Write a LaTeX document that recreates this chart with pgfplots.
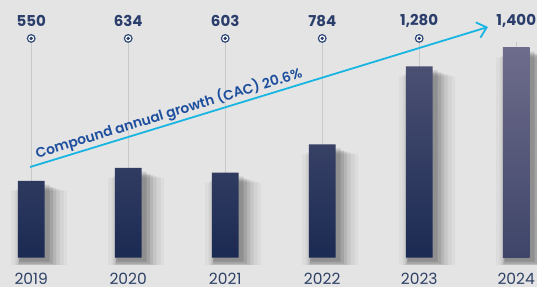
\documentclass[border=0pt]{standalone}
\usepackage{fontspec}
\setmainfont{Poppins}
\IfFontExistsTF{Poppins SemiBold}{\newfontfamily\semib{Poppins SemiBold}}{\newfontfamily\semib{Poppins}[UprightFont=*-Bold]}
\usepackage{pgfplots}
\usepackage{pgfplotstable}
\pgfplotsset{compat=1.18}
\usetikzlibrary{arrows.meta}
\definecolor{bg}{HTML}{E4E4E4}
\definecolor{bartop}{HTML}{4B5073}
\definecolor{barbot}{HTML}{1B2A52}
\definecolor{bartopL}{HTML}{6E6C8C}
\definecolor{barbotL}{HTML}{3E4568}
\definecolor{navy}{HTML}{2B3D6B}
\definecolor{yearc}{HTML}{2E4166}
\definecolor{ring}{HTML}{2E4A7A}
\definecolor{gridc}{HTML}{C9C9C9}
\definecolor{arrowc}{HTML}{18B5E3}
\definecolor{textc}{HTML}{1E4F9E}
\pgfplotstableread{
x v lab
0 550 550
1 634 634
2 603 603
3 784 784
4 1280 {1,280}
}\dataA
\pgfplotstableread{
x v lab
5 1400 {1,400}
}\dataB
\pgfplotstableread{
x v lab yr
0 550 550 2019
1 634 634 2020
2 603 603 2021
3 784 784 2022
4 1280 {1,280} 2023
5 1400 {1,400} 2024
}\dataAll
\begin{document}
\begin{tikzpicture}
\begin{axis}[
  scale only axis,
  width=537pt, height=257.5pt,
  xmin=-0.3216, xmax=5.2144, ymin=62, ymax=1704,
  axis line style={draw=none}, tick style={draw=none},
  ytick=\empty, xtick=\empty,
  clip=false,
]
% background
\fill[bg] ([yshift=-29.5pt]rel axis cs:0,0) rectangle (rel axis cs:1,1);
\coordinate (bl) at (rel axis cs:0,0);
\coordinate (tr) at (rel axis cs:1,1);
% vertical guide lines (behind bars)
\addplot[ycomb, draw=gridc, line width=1pt, mark=none] table[x=x, y expr=1459] {\dataA};
\addplot[ycomb, draw=gridc, line width=1pt, mark=none] table[x=x, y expr=1436] {\dataB};
% soft shadows
\begin{scope}
\clip (axis cs:-0.3216,20) rectangle (axis cs:5.2144,1704);
\addplot[ybar, bar width=56pt, bar shift=8pt, fill=black, draw=none, opacity=0.03, yshift=-10pt] table[x=x,y=v] {\dataAll};
\addplot[ybar, bar width=49pt, bar shift=8pt, fill=black, draw=none, opacity=0.04, yshift=-9pt] table[x=x,y=v] {\dataAll};
\addplot[ybar, bar width=43pt, bar shift=7pt, fill=black, draw=none, opacity=0.06, yshift=-8pt] table[x=x,y=v] {\dataAll};
\addplot[ybar, bar width=38pt, bar shift=6pt, fill=black, draw=none, opacity=0.08, yshift=-7pt] table[x=x,y=v] {\dataAll};
\addplot[ybar, bar width=34pt, bar shift=5pt, fill=black, draw=none, opacity=0.1, yshift=-6pt] table[x=x,y=v] {\dataAll};
\addplot[ybar, bar width=30pt, bar shift=3.5pt, fill=black, draw=none, opacity=0.12, yshift=-4pt] table[x=x,y=v] {\dataAll};
\end{scope}
% bars
\begin{scope}
\clip (axis cs:-0.3216,62) rectangle (axis cs:5.2144,1704);
\addplot[ybar, bar width=26.7pt, draw=none, top color=bartop, bottom color=barbot] table[x=x,y=v] {\dataA};
\addplot[ybar, bar width=26.7pt, draw=none, top color=bartopL, bottom color=barbotL] table[x=x,y=v] {\dataB};
\end{scope}
% markers
\addplot[only marks, mark=*, mark size=3.8pt, mark options={draw=ring, fill=white, line width=1.2pt}] table[x=x, y expr=1459] {\dataA};
\addplot[only marks, mark=*, mark size=1.5pt, mark options={draw=navy, fill=navy}] table[x=x, y expr=1459] {\dataA};
% value labels
\addplot[only marks, mark=none, point meta=explicit symbolic,
  nodes near coords, nodes near coords align={center},
  every node near coord/.append style={font=\fontsize{15}{16}\bfseries\selectfont, text=navy, inner sep=0pt}]
  table[x=x, y expr=1570, meta=lab] {\dataAll};
% year labels
\addplot[only marks, mark=none, point meta=explicit symbolic,
  nodes near coords, nodes near coords align={below},
  every node near coord/.append style={font=\fontsize{15.5}{16}\selectfont, text=yearc, inner sep=0pt, anchor=north, yshift=-15.5pt}]
  table[x=x, y expr=62, meta=yr] {\dataAll};
% growth arrow
\addplot[arrowc, line width=1.8pt, -{Straight Barb[length=9pt, width=16pt, line width=1.8pt]}] coordinates {(-0.012,639) (4.709,1532)}
  node[pos=0.015, anchor=south west, rotate=17, inner sep=1.5pt, font=\fontsize{13.8}{14}\semib\selectfont, text=textc] {Compound annual growth (CAC) 20.6\%};
\end{axis}
\pgfresetboundingbox
\path[use as bounding box] ([yshift=-29.5pt]bl) rectangle (tr);
\end{tikzpicture}
\end{document}
